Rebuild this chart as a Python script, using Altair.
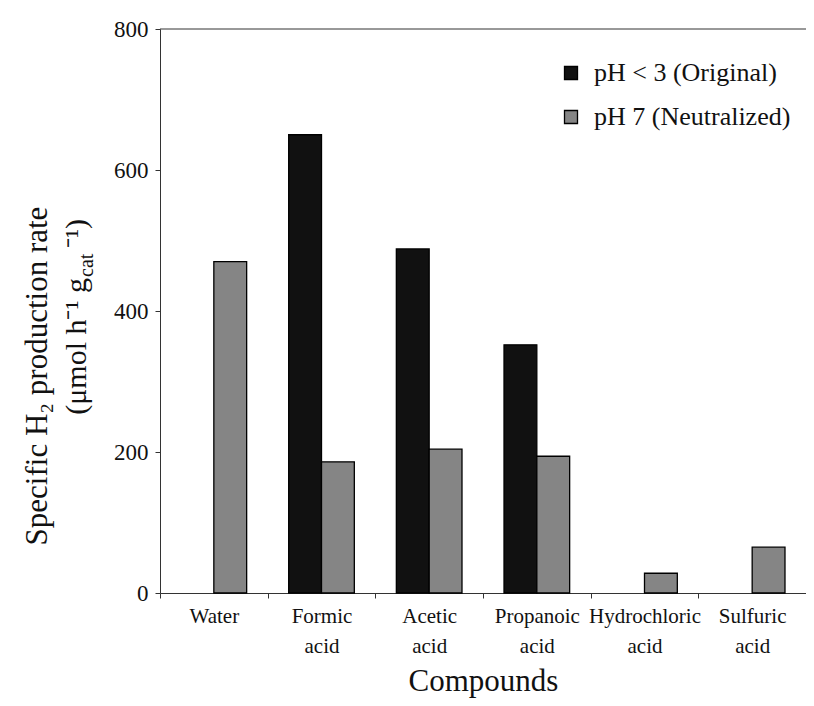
import altair as alt
import pandas as pd

# ---- data ----
compounds = ["Water", "Formic acid", "Acetic acid", "Propanoic acid",
             "Hydrochloric acid", "Sulfuric acid"]
series_names = ["pH < 3 (Original)", "pH 7 (Neutralized)"]
original = [None, 650, 488, 352, None, None]
neutralized = [470, 186, 204, 194, 28, 65]
y_ticks = [0, 200, 400, 600, 800]

FONT = "Liberation Serif"

rows = []
for c, o, n in zip(compounds, original, neutralized):
    if o is not None:
        rows.append({"compound": c, "series": series_names[0], "value": o})
    if n is not None:
        rows.append({"compound": c, "series": series_names[1], "value": n})
df = pd.DataFrame(rows)

bars = alt.Chart(df).mark_bar(stroke="black", strokeWidth=1.3).encode(
    x=alt.X("compound:N", sort=compounds,
            scale=alt.Scale(paddingInner=0, paddingOuter=0),
            axis=alt.Axis(title="Compounds", labelAngle=0,
                          labelExpr="split(datum.label, ' ')",
                          tickBand="extent", tickSize=5, labelPadding=7,
                          labelFontSize=21, labelLineHeight=30,
                          labelLimit=0,
                          titleFontSize=31, titlePadding=10,
                          titleFontWeight="normal")),
    xOffset=alt.XOffset("series:N", sort=series_names,
                        scale=alt.Scale(paddingInner=0, paddingOuter=0.64)),
    y=alt.Y("value:Q", scale=alt.Scale(domain=[y_ticks[0], y_ticks[-1]]),
            axis=alt.Axis(title=None, values=y_ticks, grid=False,
                          tickSize=5, labelPadding=7, labelFontSize=23)),
    color=alt.Color("series:N", sort=series_names,
                    scale=alt.Scale(domain=series_names,
                                    range=["#111111", "#858585"]),
                    legend=alt.Legend(title=None, orient="none",
                                      legendX=398, legendY=31,
                                      symbolType="square", symbolSize=169,
                                      symbolStrokeColor="black",
                                      symbolStrokeWidth=1.3,
                                      labelFontSize=26, labelFont=FONT,
                                      labelLimit=0,
                                      labelColor="#111", labelOffset=10,
                                      rowPadding=18)),
)

top_rule = alt.Chart(pd.DataFrame({"v": [y_ticks[-1]]})).mark_rule(
    color="#333", strokeWidth=1).encode(y="v:Q")

line1 = "Specific H\u2082 production rate"
line2a = "(\u03bcmol h\u207b\u00b9 g"
line2b = "cat"
line2c = "\u207b\u00b9)"

t1 = alt.Chart(pd.DataFrame({"t": [line1]})).mark_text(
    angle=270, font=FONT, fontSize=31, align="center", baseline="alphabetic",
    color="#111").encode(x=alt.value(-113), y=alt.value(347), text="t:N")
t2a = alt.Chart(pd.DataFrame({"t": [line2a]})).mark_text(
    angle=270, font=FONT, fontSize=30, align="right", baseline="alphabetic",
    color="#111").encode(x=alt.value(-74), y=alt.value(249), text="t:N")
t2b = alt.Chart(pd.DataFrame({"t": [line2b]})).mark_text(
    angle=270, font=FONT, fontSize=20, align="left", baseline="alphabetic",
    dx=1, dy=7, color="#111").encode(x=alt.value(-74), y=alt.value(249), text="t:N")
t2c = alt.Chart(pd.DataFrame({"t": [line2c]})).mark_text(
    angle=270, font=FONT, fontSize=30, align="left", baseline="alphabetic",
    dx=30, color="#111").encode(x=alt.value(-74), y=alt.value(249), text="t:N")

chart = alt.layer(bars, top_rule, t1, t2a, t2b, t2c).properties(
    width=646, height=564,
    autosize=alt.AutoSizeParams(type="none"),
    padding={"left": 152, "top": 21, "right": 0, "bottom": 105},
).configure(
    font=FONT,
).configure_axis(
    labelFont=FONT, titleFont=FONT, labelColor="#111", titleColor="#111",
    domainColor="#333", tickColor="#333", domainWidth=1, tickWidth=1,
).configure_view(stroke=None)

chart.save("out.html", embed_options={"renderer": "svg", "actions": False})
